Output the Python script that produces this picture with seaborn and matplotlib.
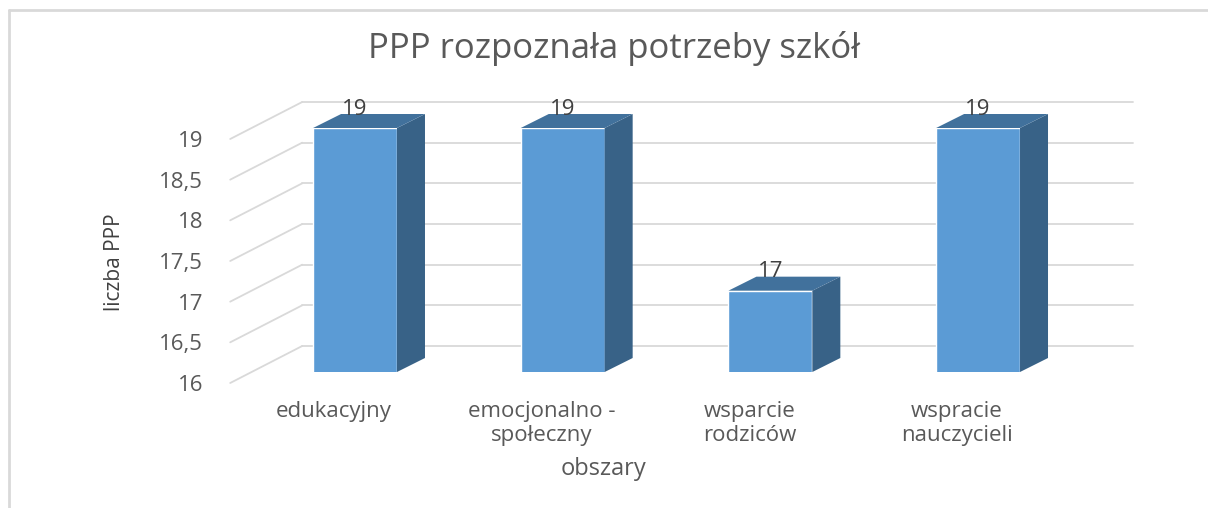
import numpy as np
import pandas as pd
import matplotlib
matplotlib.use("Agg")
import matplotlib.pyplot as plt
import matplotlib.transforms as mtransforms
from matplotlib.lines import Line2D
import seaborn as sns

# data
categories = ["edukacyjny", "emocjonalno -\nspołeczny", "wsparcie\nrodziców", "wspracie\nnauczycieli"]
values = [19, 19, 17, 19]
y_ticks = [16, 16.5, 17, 17.5, 18, 18.5, 19]
y_tick_labels = ["16", "16,5", "17", "17,5", "18", "18,5", "19"]

sns.set_style("white")
plt.rcParams["font.family"] = ["Open Sans", "DejaVu Sans"]

W, H = 1208, 508
fig = plt.figure(figsize=(W / 100, H / 100), dpi=100)

# axes = front plane of the bars
ax_l, ax_r = 251.2, 1081.9
ax_top, ax_bot = 128, 372
ax = fig.add_axes([ax_l / W, 1 - ax_bot / H, (ax_r - ax_l) / W, (ax_bot - ax_top) / H])

df = pd.DataFrame({"obszar": categories, "liczba": values})
sns.barplot(data=df, x="obszar", y="liczba", color="#5b9bd5", saturation=1,
            width=0.404, ax=ax, zorder=2)
ax.set_xlim(-0.5, 3.5)
ax.set_ylim(16, 19)

# pixel -> data unit conversion
px_x = (ax_r - ax_l) / 4.0
px_y = (ax_bot - ax_top) / 3.0
fx, fy = -21 / px_x, -11 / px_y      # floor front edge
bx, by = 51 / px_x, 26 / px_y        # back wall
dx, dy = 28 / px_x, 14 / px_y        # bar depth

grid_c = "#d9d9d9"
for t in y_ticks:
    ax.plot([-0.5 + fx, -0.5 + bx], [t + fy, t + by], color=grid_c, lw=1.3,
            clip_on=False, zorder=0.5)
    ax.plot([-0.5 + bx, 3.5 + bx], [t + by, t + by], color=grid_c, lw=1.3,
            clip_on=False, zorder=0.5)

# side and top faces
for p in ax.patches:
    x0 = p.get_x()
    x1 = x0 + p.get_width()
    top = p.get_height()
    ax.fill([x1, x1 + dx, x1 + dx, x1], [16, 16 + dy, top + dy, top],
            color="#386287", clip_on=False, zorder=2, lw=0)
    ax.fill([x0, x1, x1 + dx, x0 + dx], [top, top, top + dy, top + dy],
            color="#41719c", clip_on=False, zorder=2, lw=0)

ax.bar_label(ax.containers[0], labels=[str(v) for v in values], padding=6,
             fontsize=16, color="#404040", clip_on=False)

for s in ax.spines.values():
    s.set_visible(False)

ax.set_yticks(y_ticks)
ax.set_yticklabels(y_tick_labels)
ax.tick_params(axis="y", length=0, pad=34.5, labelsize=16, labelcolor="#595959")
ax.tick_params(axis="x", length=0, pad=13, labelsize=16, labelcolor="#595959")
off_y = mtransforms.ScaledTranslation(0, -11 / 100, fig.dpi_scale_trans)
off_x = mtransforms.ScaledTranslation(-21 / 100, -11 / 100, fig.dpi_scale_trans)
for lab in ax.get_yticklabels():
    lab.set_transform(lab.get_transform() + off_y)
for lab in ax.get_xticklabels():
    lab.set_transform(lab.get_transform() + off_x)
    lab.set_linespacing(1.2)

ax.set_ylabel("liczba PPP", fontsize=15, color="#404040")
ax.yaxis.label.set_va("center")
ax.yaxis.set_label_coords((115 - ax_l) / (ax_r - ax_l), (ax_bot - 262) / (ax_bot - ax_top))
ax.set_xlabel("obszary", fontsize=17, color="#595959")
ax.xaxis.label.set_va("center")
ax.xaxis.set_label_coords((604 - ax_l) / (ax_r - ax_l), (ax_bot - 469) / (ax_bot - ax_top))

fig.text(614 / W, 1 - 49 / H, "PPP rozpoznała potrzeby szkół", ha="center", va="center",
         fontsize=25, color="#595959")

# chart area border (top and left visible)
fig.add_artist(Line2D([9 / W, 1], [1 - 10 / H, 1 - 10 / H], color=grid_c, lw=2,
                      transform=fig.transFigure))
fig.add_artist(Line2D([9 / W, 9 / W], [0, 1 - 10 / H], color=grid_c, lw=2,
                      transform=fig.transFigure))

fig.savefig("out.png", dpi=100)
